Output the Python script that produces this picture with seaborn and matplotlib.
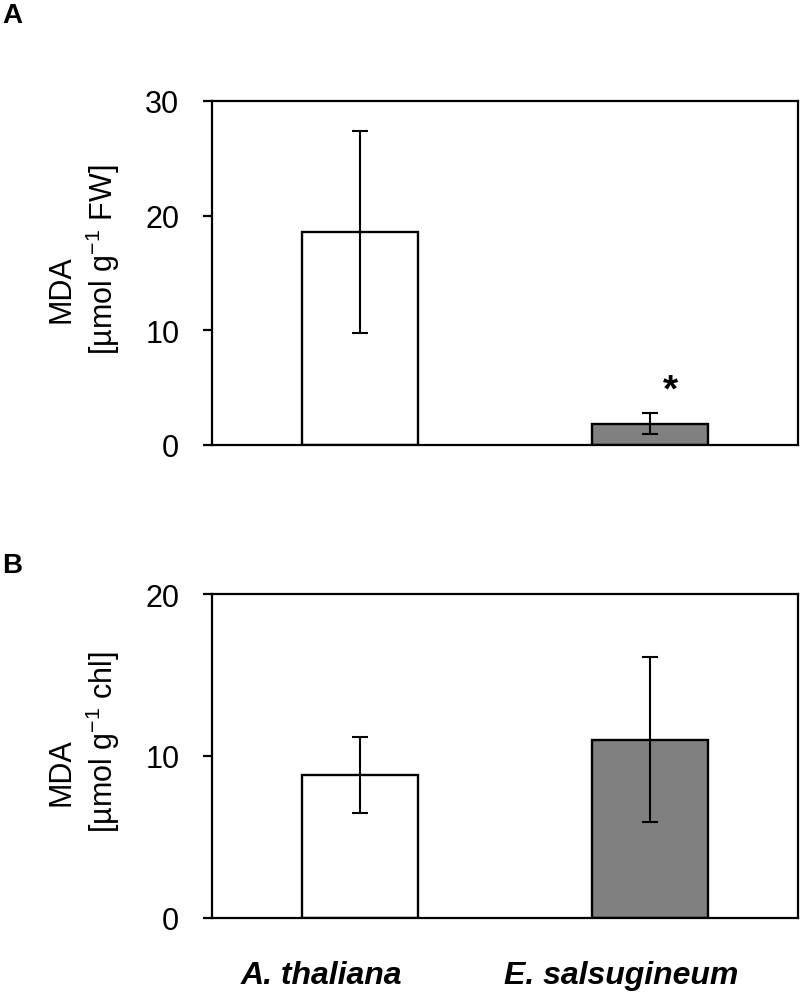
import matplotlib
matplotlib.use("Agg")
import matplotlib.pyplot as plt
import matplotlib.transforms as mtransforms
import seaborn as sns
import pandas as pd

species = ["A. thaliana", "E. salsugineum"]
mda_fw = [18.6, 1.85]
mda_fw_err = [8.8, 0.9]
mda_chl = [8.85, 11.0]
mda_chl_err = [2.35, 5.1]
bar_colors = ["#ffffff", "#808080"]
fw_ticks = [0, 10, 20, 30]
chl_ticks = [0, 10, 20]
signif_fw = ["", "*"]

sns.set_theme(style="white")
plt.rcParams["font.family"] = ["Liberation Sans", "DejaVu Sans"]
plt.rcParams["mathtext.fontset"] = "custom"
plt.rcParams["mathtext.rm"] = "Liberation Sans"
for k in ["text.color", "axes.labelcolor", "xtick.color", "ytick.color"]:
    plt.rcParams[k] = "black"

fig = plt.figure(figsize=(8, 9.95), dpi=100)
axA = fig.add_axes([0.265, 0.5518, 0.7325, 0.3457])
axB = fig.add_axes([0.265, 0.0764, 0.7325, 0.3256])


def panel(ax, vals, errs, ticks):
    df = pd.DataFrame({"species": species, "value": vals})
    sns.barplot(data=df, x="species", y="value", hue="species",
                order=species, hue_order=species, palette=bar_colors,
                errorbar=None, width=0.4, edgecolor="black", linewidth=1.7,
                legend=False, ax=ax)
    ax.errorbar(x=list(range(len(species))), y=vals, yerr=errs, fmt="none",
                ecolor="black", elinewidth=1.5, capsize=6, capthick=1.5)
    ax.set_ylim(ticks[0], ticks[-1])
    ax.set_yticks(ticks)
    ax.set_xlim(-0.51, 1.51)
    ax.set_xlabel("")
    ax.set_ylabel("")
    for s in ax.spines.values():
        s.set_visible(True)
        s.set_color("black")
        s.set_linewidth(1.6)
    ax.tick_params(axis="y", direction="out", length=6.5, width=1.6,
                   color="black", labelcolor="black", labelsize=22, pad=17,
                   left=True)
    ax.tick_params(axis="x", length=0)


panel(axA, mda_fw, mda_fw_err, fw_ticks)
panel(axB, mda_chl, mda_chl_err, chl_ticks)

axA.set_xticklabels([])
for i, s in enumerate(signif_fw):
    if s:
        axA.text(i + 0.07, mda_fw[i] + mda_fw_err[i] + 2.0, s, ha="center",
                 va="center", fontsize=28, fontweight="bold", color="black")

axB.set_xticks(range(len(species)))
axB.set_xticklabels(species, fontsize=23, fontweight="bold",
                    fontstyle="italic", color="black")
axB.tick_params(axis="x", pad=30)
offsets = [-39, -29]
for lab, dx in zip(axB.get_xticklabels(), offsets):
    lab.set_transform(lab.get_transform() +
                      mtransforms.ScaledTranslation(dx / 100, 0, fig.dpi_scale_trans))

W, H = 800, 995
def ftext(x, y, s, **kw):
    fig.text(x / W, 1 - y / H, s, color="black", **kw)

ftext(61, 289, "MDA", rotation=90, ha="center", va="center", fontsize=22)
ftext(103, 260, r"[µmol g$^{-1}$ FW]", rotation=90, ha="center", va="center", fontsize=22)
ftext(61, 772, "MDA", rotation=90, ha="center", va="center", fontsize=22)
ftext(103, 742, r"[µmol g$^{-1}$ chl]", rotation=90, ha="center", va="center", fontsize=22)

ftext(2, 23, "A", ha="left", va="baseline", fontsize=20, fontweight="bold")
ftext(2, 573, "B", ha="left", va="baseline", fontsize=20, fontweight="bold")

fig.savefig("out.png", dpi=100)
